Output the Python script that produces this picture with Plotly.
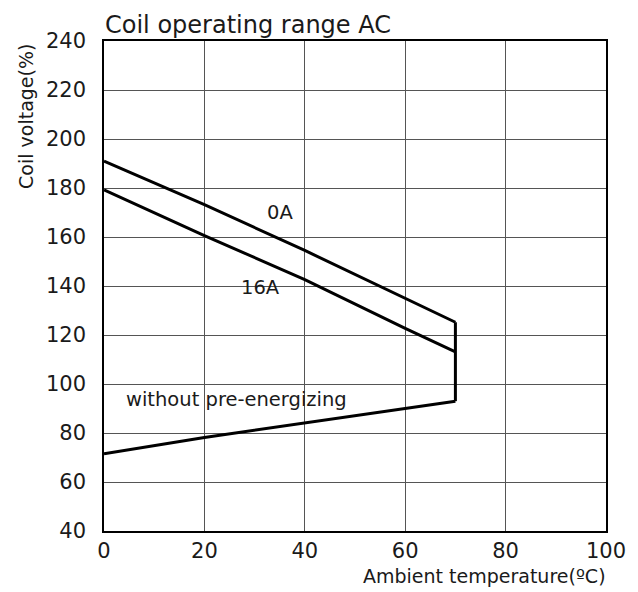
import plotly.graph_objects as go

temp_pts = [0, 20, 40, 60, 70]
curve_0A = [191, 173.2, 154.5, 134.9, 125.2]
curve_16A = [179.2, 160.6, 142.6, 122.7, 113.1]
temp_low = [0, 20, 70]
curve_without = [71.5, 78.2, 93]
vert_x = [70, 70]
vert_y = [93, 125.2]

x_ticks = [0, 20, 40, 60, 80, 100]
y_ticks = [40, 60, 80, 100, 120, 140, 160, 180, 200, 220, 240]

FONT = "DejaVu Sans"
TXT = "#1a1a1a"
line = dict(color="black", width=3)

fig = go.Figure()
fig.add_trace(go.Scatter(x=temp_pts, y=curve_0A, mode="lines", line=line))
fig.add_trace(go.Scatter(x=temp_pts, y=curve_16A, mode="lines", line=line))
fig.add_trace(go.Scatter(x=temp_low, y=curve_without, mode="lines", line=line))
fig.add_trace(go.Scatter(x=vert_x, y=vert_y, mode="lines", line=line))

ann = [
    dict(x=35.1, y=170, text="0A", showarrow=False, font=dict(size=19.5, color=TXT)),
    dict(x=31.2, y=139.2, text="16A", showarrow=False, font=dict(size=19.5, color=TXT)),
    dict(x=26.3, y=93.6, text="without pre-energizing", showarrow=False, font=dict(size=19.5, color=TXT)),
    dict(xref="paper", yref="paper", x=0, y=1, xanchor="left", yanchor="bottom",
         xshift=-1, yshift=0, text="Coil operating range AC", showarrow=False,
         font=dict(size=24, color=TXT)),
    dict(xref="paper", yref="paper", x=1, y=0, xanchor="right", yanchor="middle",
         xshift=2, yshift=-45, text="Ambient temperature(ºC)", showarrow=False,
         font=dict(size=19, color=TXT)),
    dict(xref="paper", x=0, y=209, xanchor="center", yanchor="middle", xshift=-78,
         textangle=-90, text="Coil voltage(%)", showarrow=False, font=dict(size=19, color=TXT)),
]

fig.update_layout(
    width=638, height=592,
    margin=dict(l=104, r=28, t=41, b=61),
    paper_bgcolor="white", plot_bgcolor="white",
    showlegend=False,
    font=dict(family=FONT, color=TXT, size=18),
    annotations=ann,
)
fig.update_xaxes(range=[0, 100], tickvals=x_ticks, showgrid=True, gridcolor="#555555", gridwidth=1,
                 showline=True, linecolor="black", linewidth=1.5, mirror=True, zeroline=False,
                 ticks="", tickfont=dict(size=21))
fig.update_yaxes(range=[40, 240], tickvals=y_ticks, showgrid=True, gridcolor="#555555", gridwidth=1,
                 showline=True, linecolor="black", linewidth=1.5, mirror=True, zeroline=False,
                 ticks="", ticklabelstandoff=12, tickfont=dict(size=21))

fig.write_html("out.html", config={"displayModeBar": False},
               post_script="document.body.style.margin='0';document.body.style.overflow='hidden';")
